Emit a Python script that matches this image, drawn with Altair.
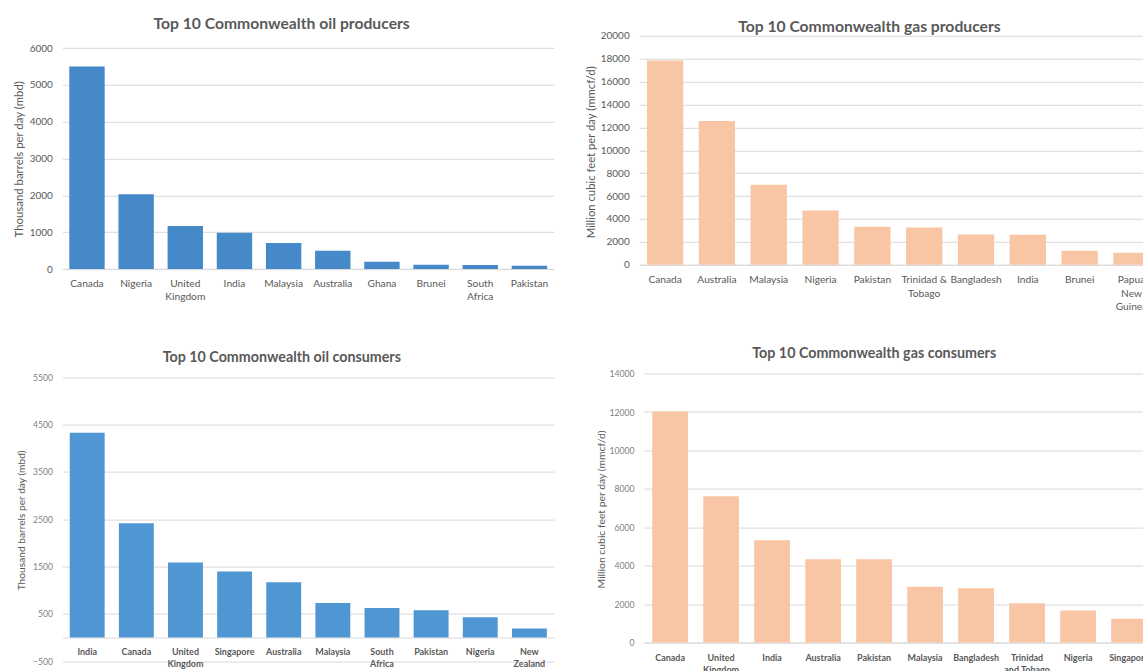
import altair as alt
import pandas as pd

# ---------------- data ----------------
oil_prod_countries = ["Canada", "Nigeria", "United\nKingdom", "India", "Malaysia",
                      "Australia", "Ghana", "Brunei", "South\nAfrica", "Pakistan"]
oil_prod_values = [5500, 2030, 1170, 990, 710, 495, 200, 120, 110, 90]

gas_prod_countries = ["Canada", "Australia", "Malaysia", "Nigeria", "Pakistan",
                      "Trinidad &\nTobago", "Bangladesh", "India", "Brunei", "Papua\nNew\nGuinea"]
gas_prod_values = [17850, 12550, 7000, 4750, 3320, 3260, 2650, 2620, 1220, 1050]

oil_cons_countries = ["India", "Canada", "United\nKingdom", "Singapore", "Australia",
                      "Malaysia", "South\nAfrica", "Pakistan", "Nigeria", "New\nZealand"]
oil_cons_values = [4325, 2415, 1585, 1395, 1170, 730, 625, 578, 430, 190]

gas_cons_countries = ["Canada", "United\nKingdom", "India", "Australia", "Pakistan",
                      "Malaysia", "Bangladesh", "Trinidad\nand Tobago", "Nigeria", "Singapore"]
gas_cons_values = [12025, 7620, 5330, 4340, 4340, 2900, 2830, 2050, 1665, 1235]

oil_prod_ticks = [0, 1000, 2000, 3000, 4000, 5000, 6000]
gas_prod_ticks = [0, 2000, 4000, 6000, 8000, 10000, 12000, 14000, 16000, 18000, 20000]
oil_cons_ticks = [-500, 500, 1500, 2500, 3500, 4500, 5500]
gas_cons_ticks = [0, 2000, 4000, 6000, 8000, 10000, 12000, 14000]

FONT = "Lato"
GRAY = "#595959"
GRID = "#d9d9d9"


def panel(countries, values, color, width, height, yrange, ydomain, yticks,
          pi, po, title, title_size, title_dx, title_offset,
          xl_size, xl_weight, xl_pad, xl_lh, yl_size, yl_color,
          ytitle, yt_size, yt_x, yt_y):
    df = pd.DataFrame({"country": countries, "value": values})
    return alt.Chart(df).mark_bar(color=color).encode(
        x=alt.X("country:N", sort=countries,
                scale=alt.Scale(paddingInner=pi, paddingOuter=po),
                axis=alt.Axis(title=None, labelAngle=0,
                              labelExpr="split(datum.label, '\\n')",
                              labelFont=FONT, labelFontSize=xl_size,
                              labelFontWeight=xl_weight, labelColor=GRAY,
                              labelPadding=xl_pad, labelLineHeight=xl_lh,
                              labelOverlap=False, domainColor=GRID,
                              domainWidth=1, ticks=False, grid=False)),
        y=alt.Y("value:Q",
                scale=alt.Scale(domain=ydomain, range=yrange, nice=False),
                axis=alt.Axis(values=yticks, format="d", grid=True,
                              gridColor=GRID, gridWidth=1, domain=False,
                              ticks=False, labelPadding=10, labelFont=FONT,
                              labelFontSize=yl_size, labelColor=yl_color,
                              title=ytitle, titleFont=FONT,
                              titleFontSize=yt_size, titleFontWeight="normal",
                              titleColor=GRAY, titleAngle=270,
                              titleAlign="center", titleBaseline="middle",
                              titleX=yt_x, titleY=yt_y)),
    ).properties(
        width=width, height=height,
        title=alt.TitleParams(text=title, font=FONT, fontSize=title_size,
                              fontWeight="bold", color=GRAY, anchor="middle",
                              frame="group", dx=title_dx, offset=title_offset),
    )


A = panel(oil_prod_countries, oil_prod_values, "#4689c8", 491.6, 233.3,
          [233.3, 12.3], [0, 6000], oil_prod_ticks, 0.28, 0.14,
          "Top 10 Commonwealth oil producers", 15.7, -26.6, 3,
          10.2, "normal", 9.8, 12.6, 10, GRAY,
          "Thousand barrels per day (mbd)", 11.4, -43.2, 123)

B = panel(gas_prod_countries, gas_prod_values, "#f8c6a4", 518.2, 229,
          [229, 0], [0, 20000], gas_prod_ticks, 0.3, 0.15,
          "Top 10 Commonwealth gas producers", 15.7, -28.9, -5.1,
          10.2, "normal", 10, 13.5, 10, GRAY,
          "Million cubic feet per day (mmcf/d)", 11.3, -47.7, 116)

C = panel(oil_cons_countries, oil_cons_values, "#5096d2", 491.8, 263.9,
          [287.6, 3.6], [-500, 5500], oil_cons_ticks, 0.29, 0.15,
          "Top 10 Commonwealth oil consumers", 14.3, -26.5, 7.9,
          9.0, "bold", 10.3, 12, 8.6, "#7f7f7f",
          "Thousand barrels per day (mbd)", 10.2, -40.5, 146.3)

D = panel(gas_cons_countries, gas_cons_values, "#f8c6a4", 511, 269,
          [269, 0], [0, 14000], gas_cons_ticks, 0.3, 0.16,
          "Top 10 Commonwealth gas consumers", 14.3, -25.4, 8.4,
          9.0, "bold", 11.3, 11.5, 8.7, "#7f7f7f",
          "Million cubic feet per day (mmcf/d)", 10.4, -42.7, 135.3)

row1 = alt.hconcat(A, B, spacing=84.8, bounds="flush")
row2 = alt.hconcat(C, D, spacing=89.7, bounds="flush")

chart = alt.vconcat(row1, row2, spacing=33.8).configure_view(
    stroke=None
).properties(
    padding={"left": 12.4, "top": 15.8, "right": -14, "bottom": -4},
    background="white",
)

chart.save("out.html", embed_options={"renderer": "svg", "actions": False})
